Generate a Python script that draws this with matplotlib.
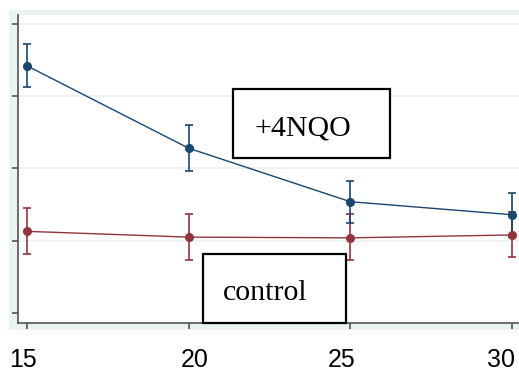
import matplotlib
matplotlib.use("Agg")
import matplotlib.pyplot as plt
import matplotlib.transforms as mtransforms
from matplotlib.patches import Rectangle

# data (arbitrary y units, gridlines at 1..4)
time = [15, 20, 25, 30]
nqo_mean = [3.42, 2.28, 1.54, 1.36]
nqo_lo = [3.13, 1.97, 1.25, 1.05]
nqo_hi = [3.72, 2.60, 1.83, 1.66]
ctl_mean = [1.13, 1.05, 1.04, 1.08]
ctl_lo = [0.82, 0.73, 0.73, 0.77]
ctl_hi = [1.45, 1.37, 1.37, 1.40]
xticks = [15, 20, 25, 30]
yticks = [0, 1, 2, 3, 4]

W, H = 519, 373
fig = plt.figure(figsize=(W / 100, H / 100), dpi=100)
fig.patch.set_facecolor("white")


def px(x, y):
    # pixel (from top-left) -> figure fraction
    return x / W, 1 - y / H


# light graph region behind the plot
x0, y0 = px(9, 330)
fig.patches.append(Rectangle((x0, y0), 1 - x0, (330 - 10) / H,
                             transform=fig.transFigure, facecolor="#eaf2f3",
                             edgecolor="none", zorder=-10))

left, bottom = px(17.5, 323)
_, top = px(0, 14.5)
ax = fig.add_axes([left, bottom, 1 - left, top - bottom])
ax.set_facecolor("white")
ax.set_zorder(1)

navy = "#1a476f"
maroon = "#90353b"


def draw(mean, lo, hi, color):
    err = [[m - l for m, l in zip(mean, lo)], [h - m for m, h in zip(mean, hi)]]
    ax.errorbar(time, mean, yerr=err, fmt="none", ecolor=color,
                elinewidth=1.2, capsize=3.2, capthick=1.2, zorder=3)
    ax.plot(time, mean, color=color, lw=1.0, marker="o", ms=5.5, zorder=4)


draw(ctl_mean, ctl_lo, ctl_hi, maroon)
draw(nqo_mean, nqo_lo, nqo_hi, navy)

ax.set_xlim(15 - 9.5 / 32.33, 30 + 7 / 32.33)
ax.set_ylim(-0.138, 4.13)
ax.set_xticks(xticks)
ax.set_xticklabels([str(t) for t in xticks], fontsize=18, family="Liberation Sans")
ax.set_yticks(yticks)
ax.set_yticklabels([])
for g in yticks[1:]:
    ax.axhline(g, color="#eaf2f3", lw=1.2, zorder=1)

for s in ["top", "right"]:
    ax.spines[s].set_visible(False)
for s in ["left", "bottom"]:
    ax.spines[s].set_color("#555555")
    ax.spines[s].set_linewidth(1.2)
ax.tick_params(axis="both", direction="out", length=4, width=1.1, color="#444444")
ax.tick_params(axis="x", pad=14)

# labels in the picture sit a little off their ticks
for lab, dx in zip(ax.get_xticklabels(), [-4.5, 6.5, -8.5, -11]):
    lab.set_transform(lab.get_transform() +
                      mtransforms.ScaledTranslation(dx / 100, 0, fig.dpi_scale_trans))

# annotation boxes
for (bx0, by0, bx1, by1), (tx, ty), label in [
        ((233, 89, 390, 158), (254, 135), "+4NQO"),
        ((203, 254, 346, 323), (223, 300), "control")]:
    rx, ry = px(bx0, by1)
    fig.patches.append(Rectangle((rx, ry), (bx1 - bx0) / W, (by1 - by0) / H,
                                 transform=fig.transFigure, facecolor="white",
                                 edgecolor="black", lw=1.6, zorder=5))
    fx, fy = px(tx, ty)
    fig.text(fx, fy, label, fontsize=21.5, family="Liberation Serif",
             va="baseline", ha="left", zorder=6)

fig.savefig("out.png", dpi=100)
